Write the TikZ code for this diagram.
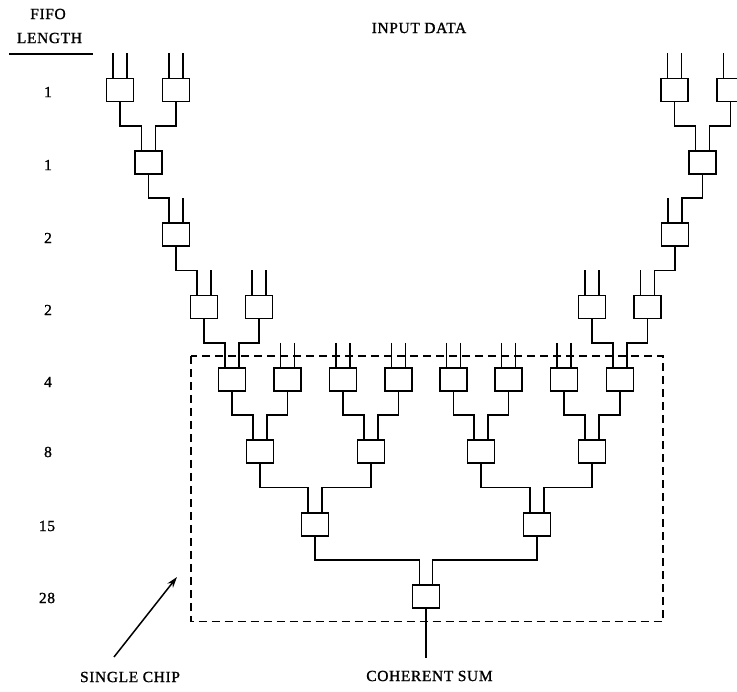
\documentclass[tikz,border=0pt]{standalone}
\usepackage{fontspec}
\setmainfont{Liberation Serif}
\usetikzlibrary{arrows.meta}
\newcommand\linkup[3]{\draw[wire] (#1.south) |- ([xshift=#3pt,yshift=24.2pt]#2.north) -- ([xshift=#3pt]#2.north);}
\newcommand\stubin[2]{\draw[wire] ([xshift=#2pt,yshift=24.2pt]#1.north) -- ([xshift=#2pt]#1.north);}
\begin{document}
\begin{tikzpicture}[x=1pt,y=-1pt,
 blk/.style={draw,line width=1.8pt,minimum width=27pt,minimum height=23pt,inner sep=0pt},
 wire/.style={line width=1.8pt},
 lbl/.style={font=\fontsize{15.5}{18}\selectfont\addfontfeature{LetterSpace=4,FakeBold=1.2},inner sep=0pt},
]
\useasboundingbox (0,0) rectangle (737,692);
\clip (0,0) rectangle (737,692);
% left feeder tree
\node[blk] (l1a) at (120,90) {};
\node[blk] (l1b) at (176,90) {};
\node[blk] (l2) at (148.5,162.4) {};
\node[blk] (l3) at (176,234.7) {};
\node[blk] (l4a) at (204,307.1) {};
\node[blk] (l4b) at (259,307.1) {};
% right feeder tree
\node[blk] (r1a) at (674.5,90) {};
\node[blk] (r1b) at (730.5,90) {};
\node[blk] (r2) at (702.5,162.4) {};
\node[blk] (r3) at (675,234.7) {};
\node[blk] (r4) at (647.5,307.1) {};
\node[blk] (r4in) at (592,307.1) {};
% chip
\node[blk] (c1) at (232,379.4) {};
\node[blk] (c2) at (287.5,379.4) {};
\node[blk] (c3) at (343,379.4) {};
\node[blk] (c4) at (398.5,379.4) {};
\node[blk] (c5) at (453.5,379.4) {};
\node[blk] (c6) at (508.5,379.4) {};
\node[blk] (c7) at (564,379.4) {};
\node[blk] (c8) at (620,379.4) {};
\node[blk] (d1) at (260,451.8) {};
\node[blk] (d2) at (371,451.8) {};
\node[blk] (d3) at (481,451.8) {};
\node[blk] (d4) at (592,451.8) {};
\node[blk] (e1) at (315,524.2) {};
\node[blk] (e2) at (537,524.2) {};
\node[blk] (f) at (426,596.5) {};
% stubs (external inputs)
\foreach \n in {l1a,l1b,r1a,r1b,l4b,r4in,c2,c3,c4,c5,c6,c7} {\stubin{\n}{-7}\stubin{\n}{7}}
\stubin{l3}{7}
\stubin{l4a}{7}
\stubin{r3}{-7}
\stubin{r4}{-7}
% links
\linkup{l1a}{l2}{-7}
\linkup{l1b}{l2}{7}
\linkup{l2}{l3}{-7}
\linkup{l3}{l4a}{-7}
\linkup{l4a}{c1}{-7}
\linkup{l4b}{c1}{7}
\linkup{r1a}{r2}{-7}
\linkup{r1b}{r2}{7}
\linkup{r2}{r3}{7}
\linkup{r3}{r4}{7}
\linkup{r4in}{c8}{-7}
\linkup{r4}{c8}{7}
\linkup{c1}{d1}{-7}
\linkup{c2}{d1}{7}
\linkup{c3}{d2}{-7}
\linkup{c4}{d2}{7}
\linkup{c5}{d3}{-7}
\linkup{c6}{d3}{7}
\linkup{c7}{d4}{-7}
\linkup{c8}{d4}{7}
\linkup{d1}{e1}{-7}
\linkup{d2}{e1}{7}
\linkup{d3}{e2}{-7}
\linkup{d4}{e2}{7}
\linkup{e1}{f}{-6.5}
\linkup{e2}{f}{6.5}
\coordinate (out) at (426,658);
\draw[wire] (f.south) -- (out);
% chip boundary
\draw[line width=1.7pt,dash pattern=on 8pt off 5pt] (191,356) rectangle (663,621.5);
% labels
\node[lbl] (fifo) at (48,14) {FIFO};
\node[lbl] (len) at (49.5,38) {LENGTH};
\draw[line width=1.6pt] (9,54) -- (93,54);
\node[lbl] (n1) at (48,92) {1};
\node[lbl] (n2) at (48,165) {1};
\node[lbl] (n3) at (48,238) {2};
\node[lbl] (n4) at (48,310) {2};
\node[lbl] (n5) at (48,382) {4};
\node[lbl] (n6) at (48,452) {8};
\node[lbl] (n7) at (47,526) {15};
\node[lbl] (n8) at (47,598) {28};
\node[lbl] (inp) at (419,28) {INPUT DATA};
\node[lbl] (coh) at (429.5,676) {COHERENT SUM};
\node[lbl] (sc) at (130,677) {SINGLE CHIP};
\coordinate (as) at (114,657);
\coordinate (ae) at (177,577);
\draw[line width=1.5pt,-{Stealth[length=11pt,width=7pt]}] (as) -- (ae);
\end{tikzpicture}
\end{document}
